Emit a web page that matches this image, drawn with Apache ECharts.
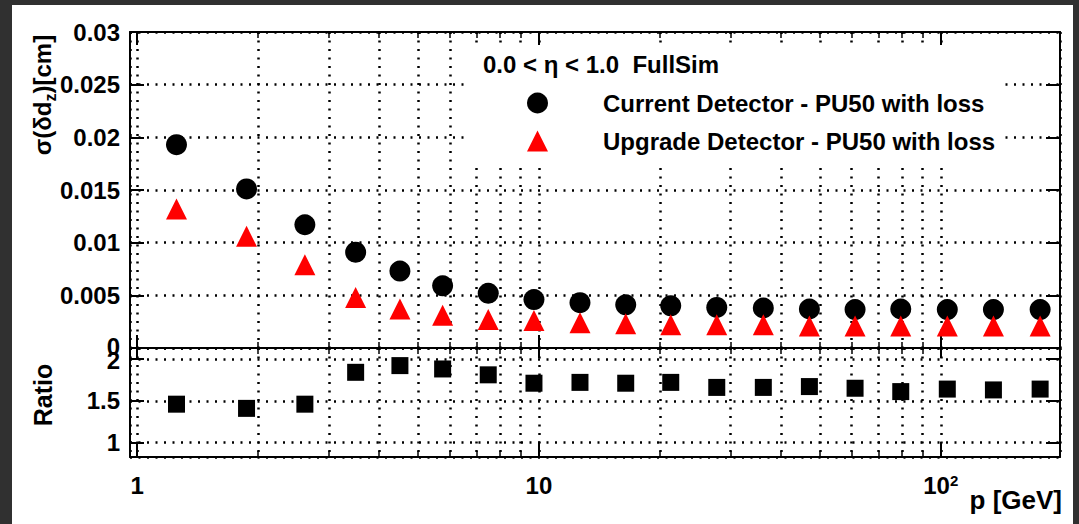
<!DOCTYPE html>
<html><head><meta charset="utf-8">
<script src="https://cdn.jsdelivr.net/npm/echarts@6/dist/echarts.min.js"></script>
<style>
html,body{margin:0;padding:0;background:#303030;width:1079px;height:524px;overflow:hidden}
#c{position:absolute;left:12px;top:5px;width:1061px;height:519px;background:#fff}
</style></head><body><div id="c"></div>
<script>
// ---- data ----
const pValues = [1.253, 1.872, 2.615, 3.498, 4.508, 5.758, 7.478, 9.718, 12.65, 16.44, 21.28, 27.70, 36.17, 47.10, 61.19, 79.50, 103.8, 135.2, 176.7];
const currentRes = [0.0193, 0.0151, 0.0117, 0.0091, 0.0073, 0.0059, 0.0052, 0.0046, 0.0043, 0.0041, 0.0040, 0.00385, 0.0038, 0.0037, 0.00365, 0.0037, 0.00365, 0.00365, 0.00365];
const upgradeRes = [0.0132, 0.0106, 0.0079, 0.0048, 0.0037, 0.0031, 0.0027, 0.0026, 0.0024, 0.0023, 0.0022, 0.0022, 0.0022, 0.0021, 0.0021, 0.0021, 0.0021, 0.0021, 0.0021];
const ratioValues = [1.46, 1.41, 1.46, 1.84, 1.92, 1.88, 1.81, 1.71, 1.72, 1.71, 1.72, 1.66, 1.66, 1.67, 1.65, 1.61, 1.64, 1.63, 1.64];
const seriesNames = ['Current Detector - PU50 with loss', 'Upgrade Detector - PU50 with loss', 'Ratio'];
const headerText = '0.0 < \u03b7 < 1.0  FullSim';
const yTitleParts = ['\u03c3(\u03b4d', 'z', ')[cm]'];
const ratioTitle = 'Ratio';
const xTitle = 'p [GeV]';

const FONT = '"Liberation Sans", Arial, Helvetica, sans-serif';
const dotted = {color: '#000', width: 2.5, type: [2, 6.5]};
const frame = {show: true, onZero: false, lineStyle: {color: '#000', width: 2}};
const pair = arr => pValues.map((p, i) => [p, arr[i]]);
const labelFont = {fontFamily: FONT, fontSize: 24, fontWeight: 'bold', color: '#000'};

// measure the pieces of the rotated y title so the subscript can be placed
const mctx = document.createElement('canvas').getContext('2d');
const MAIN_FONT = 'bold 24px ' + FONT, SUB_FONT = 'bold 16px ' + FONT;
function tw(t, f) { mctx.font = f; return mctx.measureText(t).width; }
const w1 = tw(yTitleParts[0], MAIN_FONT), wz = tw(yTitleParts[1], SUB_FONT), w3 = tw(yTitleParts[2], MAIN_FONT);
const wTot = w1 + wz + w3;

function xAxisDef(grid, pos, withLabels, withGrid, majorLen) {
  return {
    type: 'log', logBase: 10, gridIndex: grid, position: pos, min: 0.96, max: 198,
    axisLine: frame,
    axisTick: {show: true, inside: true, length: majorLen, lineStyle: {color: '#000', width: 2}},
    minorTick: {show: true, splitNumber: 9, length: 6, lineStyle: {color: '#000', width: 1.5}},
    axisLabel: withLabels ? Object.assign({
      show: true, margin: 16, showMinLabel: false, showMaxLabel: false, lineHeight: 24,
      formatter: v => (Math.abs(v - 100) < 1e-6 ? '{m|10}{sup|2}' : String(Math.round(v))),
      rich: {
        m: Object.assign({lineHeight: 24, verticalAlign: 'bottom'}, labelFont),
        sup: {fontFamily: FONT, fontSize: 15, fontWeight: 'bold', color: '#000', lineHeight: 15, verticalAlign: 'top'}
      }
    }, labelFont) : {show: false},
    splitLine: {show: withGrid, lineStyle: dotted},
    minorSplitLine: {show: withGrid, lineStyle: dotted}
  };
}
function yAxisDef(grid, pos, withLabels, withGrid, range) {
  return Object.assign({
    type: 'value', gridIndex: grid, position: pos,
    axisLine: frame,
    axisTick: {show: true, inside: true, length: 14, lineStyle: {color: '#000', width: 2}},
    axisLabel: withLabels ? Object.assign({show: true, margin: 10,
      showMinLabel: range.showMin, showMaxLabel: range.showMax,
      formatter: range.fmt,
      rich: {
        up: Object.assign({lineHeight: 16, padding: [0, 0, 4, 0]}, labelFont),
        dn: Object.assign({lineHeight: 16, padding: [4, 0, 0, 0]}, labelFont)
      }}, labelFont) : {show: false},
    splitLine: {show: withGrid, lineStyle: dotted}
  }, range.scale);
}
const topRange = {scale: {min: 0, max: 0.03, interval: 0.005}, showMin: true, showMax: true,
  fmt: v => (v === 0 ? '{up|0}' : String(+v.toFixed(4)))};
const lowRange = {scale: {min: 0.83, max: 2.13, splitNumber: 3}, showMin: false, showMax: false,
  fmt: v => (Math.abs(v - 2) < 1e-9 ? '{dn|2}' : String(+v.toFixed(2)))};

const chart = echarts.init(document.getElementById('c'), null, {renderer: 'svg'});
chart.setOption({
  animation: false,
  backgroundColor: '#fff',
  textStyle: {fontFamily: FONT},
  grid: [
    {left: 118, top: 27, width: 930, height: 316},
    {left: 118, top: 343, width: 930, height: 109}
  ],
  xAxis: [
    xAxisDef(0, 'bottom', false, true, 13),
    xAxisDef(0, 'top', false, false, 13),
    xAxisDef(1, 'bottom', true, true, 15),
    xAxisDef(1, 'top', false, false, 10)
  ],
  yAxis: [
    yAxisDef(0, 'left', true, true, topRange),
    yAxisDef(0, 'right', false, false, topRange),
    yAxisDef(1, 'left', true, true, lowRange),
    yAxisDef(1, 'right', false, false, lowRange)
  ],
  title: {
    text: headerText, left: 471, top: 47, padding: 0,
    textStyle: {fontFamily: FONT, fontSize: 24, fontWeight: 'bold', color: '#000'}
  },
  legend: {
    data: [{name: seriesNames[0], icon: 'circle'}, {name: seriesNames[1], icon: 'triangle'}],
    orient: 'vertical', left: 515, top: 86, padding: 0,
    itemWidth: 21, itemHeight: 21, itemGap: 14, selectedMode: false,
    textStyle: {fontFamily: FONT, fontSize: 24, fontWeight: 'bold', color: '#000', padding: [0, 0, 0, 50]}
  },
  graphic: [
    {type: 'rect', z: 1, shape: {x: 456, y: 40, width: 532, height: 123}, style: {fill: '#fff'}},
    {type: 'group', x: 30, y: 90 + wTot / 2, rotation: Math.PI / 2, z: 10, children: [
      {type: 'text', x: 0, y: 0, z: 10, style: {text: yTitleParts[0], font: MAIN_FONT, fill: '#000', textAlign: 'left', textVerticalAlign: 'middle'}},
      {type: 'text', x: w1, y: 8, z: 10, style: {text: yTitleParts[1], font: SUB_FONT, fill: '#000', textAlign: 'left', textVerticalAlign: 'middle'}},
      {type: 'text', x: w1 + wz, y: 0, z: 10, style: {text: yTitleParts[2], font: MAIN_FONT, fill: '#000', textAlign: 'left', textVerticalAlign: 'middle'}}
    ]},
    {type: 'text', x: 31, y: 390, rotation: Math.PI / 2, z: 10,
      style: {text: ratioTitle, textAlign: 'center', textVerticalAlign: 'middle', fill: '#000',
        font: 'bold 25px ' + FONT}},
    {type: 'text', x: 1050, y: 495, z: 10,
      style: {text: xTitle, textAlign: 'right', textVerticalAlign: 'middle', fill: '#000',
        font: 'bold 26px ' + FONT}}
  ],
  series: [
    {name: seriesNames[0], type: 'scatter', xAxisIndex: 0, yAxisIndex: 0, symbol: 'circle', symbolSize: 21,
      itemStyle: {color: '#000', opacity: 1}, data: pair(currentRes), z: 3},
    {name: seriesNames[1], type: 'scatter', xAxisIndex: 0, yAxisIndex: 0, symbol: 'triangle', symbolSize: 21,
      itemStyle: {color: '#ff0000', opacity: 1}, data: pair(upgradeRes), z: 4},
    {name: seriesNames[2], type: 'scatter', xAxisIndex: 2, yAxisIndex: 2, symbol: 'rect', symbolSize: 17,
      itemStyle: {color: '#000', opacity: 1}, data: pair(ratioValues), z: 3}
  ]
});
</script></body></html>
